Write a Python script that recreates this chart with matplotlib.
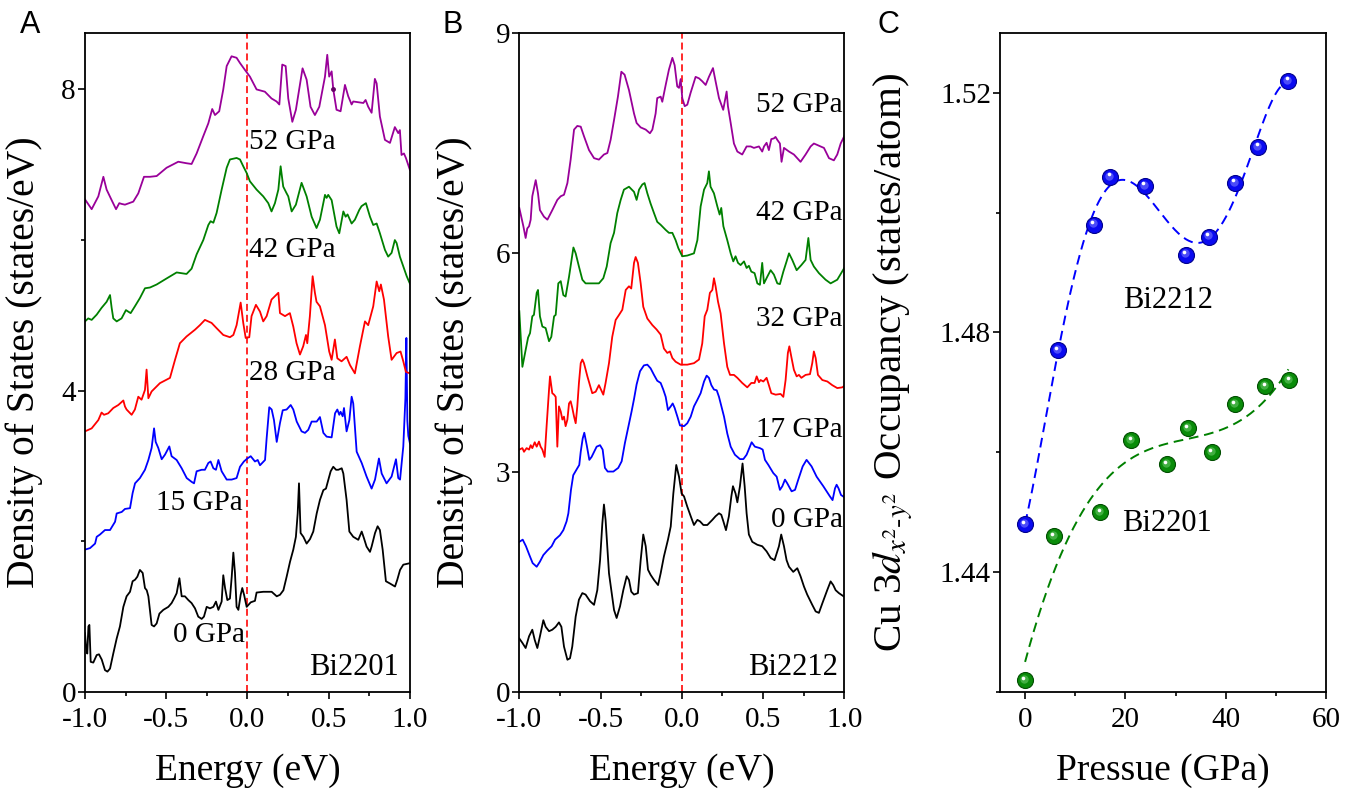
import numpy as np
import matplotlib
matplotlib.use('Agg')
import matplotlib.pyplot as plt
from matplotlib.ticker import MultipleLocator, FormatStrFormatter
from matplotlib.transforms import offset_copy

plt.rcParams['font.family'] = 'Liberation Serif'
plt.rcParams['mathtext.fontset'] = 'stix'
plt.rcParams['axes.unicode_minus'] = False

# ---- Bi2201 DOS, (energy in eV, states/eV incl. vertical offset) ----
bi2201_0 = [(-1.000,0.78),(-0.994,0.60),(-0.986,0.51),(-0.979,0.87),(-0.973,0.89),(-0.965,0.40),(-0.949,0.39),(-0.928,0.49),(-0.914,0.50),(-0.897,0.43),(-0.877,0.29),(-0.862,0.27),(-0.846,0.31),(-0.826,0.51),(-0.805,0.71),(-0.785,0.87),(-0.764,1.13),(-0.744,1.27),(-0.723,1.33),(-0.707,1.47),(-0.692,1.49),(-0.678,1.53),(-0.662,1.62),(-0.645,1.58),(-0.631,1.38),(-0.620,1.35),(-0.610,1.27),(-0.590,0.89),(-0.575,0.87),(-0.559,0.91),(-0.542,1.04),(-0.518,1.09),(-0.487,1.13),(-0.467,1.18),(-0.452,1.24),(-0.436,1.31),(-0.419,1.51),(-0.405,1.27),(-0.385,1.27),(-0.364,1.22),(-0.344,1.18),(-0.323,1.11),(-0.303,1.00),(-0.282,0.97),(-0.268,1.00),(-0.251,1.13),(-0.231,1.11),(-0.210,1.13),(-0.194,1.20),(-0.179,1.09),(-0.159,1.20),(-0.149,1.55),(-0.138,1.38),(-0.124,1.22),(-0.108,1.24),(-0.097,1.53),(-0.087,1.85),(-0.077,1.58),(-0.067,1.13),(-0.056,1.09),(-0.042,1.29),(-0.032,1.38),(-0.021,1.29),(-0.005,1.13),(0.020,1.19),(0.046,1.21),(0.056,1.32),(0.097,1.33),(0.149,1.33),(0.180,1.27),(0.200,1.29),(0.221,1.35),(0.241,1.53),(0.262,1.73),(0.282,1.89),(0.298,2.06),(0.309,2.37),(0.317,2.77),(0.327,2.11),(0.344,2.06),(0.364,1.97),(0.385,2.03),(0.405,2.13),(0.426,2.37),(0.446,2.55),(0.467,2.68),(0.483,2.70),(0.498,2.82),(0.512,2.93),(0.528,2.99),(0.545,2.95),(0.559,2.95),(0.580,2.97),(0.590,2.90),(0.610,2.55),(0.627,2.13),(0.651,2.06),(0.682,2.02),(0.703,2.13),(0.717,2.04),(0.733,1.93),(0.754,1.86),(0.764,1.93),(0.785,2.11),(0.801,2.20),(0.815,2.15),(0.832,1.89),(0.852,1.47),(0.877,1.44),(0.908,1.40),(0.922,1.49),(0.939,1.62),(0.959,1.69),(1.000,1.71)]
bi2201_15 = [(-1.000,1.89),(-0.969,1.91),(-0.938,1.97),(-0.928,2.06),(-0.908,2.09),(-0.877,2.15),(-0.846,2.15),(-0.815,2.26),(-0.805,2.37),(-0.774,2.39),(-0.754,2.43),(-0.723,2.44),(-0.707,2.64),(-0.692,2.77),(-0.662,2.84),(-0.631,2.95),(-0.610,3.08),(-0.590,3.24),(-0.575,3.50),(-0.565,3.32),(-0.549,3.24),(-0.528,3.09),(-0.508,3.15),(-0.481,3.26),(-0.467,3.13),(-0.436,3.08),(-0.405,2.97),(-0.374,2.84),(-0.344,2.79),(-0.329,2.77),(-0.313,2.93),(-0.282,2.95),(-0.262,2.95),(-0.241,3.04),(-0.227,3.06),(-0.210,2.97),(-0.194,2.95),(-0.179,3.08),(-0.159,2.93),(-0.128,2.82),(-0.097,2.82),(-0.067,2.84),(-0.046,2.99),(-0.022,3.06),(-0.001,3.10),(0.020,3.13),(0.046,3.06),(0.063,3.08),(0.077,3.01),(0.108,3.08),(0.118,3.37),(0.134,3.78),(0.149,3.75),(0.163,3.61),(0.180,3.32),(0.200,3.57),(0.217,3.74),(0.241,3.75),(0.266,3.81),(0.282,3.75),(0.303,3.59),(0.333,3.46),(0.354,3.44),(0.374,3.48),(0.395,3.59),(0.426,3.59),(0.446,3.65),(0.467,3.44),(0.487,3.39),(0.518,3.38),(0.539,3.70),(0.553,3.75),(0.565,3.68),(0.573,3.72),(0.586,3.66),(0.594,3.77),(0.610,3.46),(0.627,3.61),(0.641,3.92),(0.651,3.83),(0.672,3.19),(0.703,3.04),(0.733,2.86),(0.764,2.70),(0.785,2.82),(0.809,3.10),(0.826,2.90),(0.856,2.77),(0.887,2.86),(0.914,3.09),(0.928,2.84),(0.939,2.82),(0.959,3.26),(0.972,3.90),(0.978,4.70),(0.984,3.60),(0.990,3.40),(1.000,3.30)]
bi2201_28 = [(-1.000,3.46),(-0.959,3.50),(-0.918,3.61),(-0.898,3.71),(-0.883,3.68),(-0.857,3.70),(-0.826,3.77),(-0.795,3.81),(-0.764,3.87),(-0.754,3.79),(-0.744,3.75),(-0.713,3.68),(-0.693,3.75),(-0.672,3.92),(-0.652,3.88),(-0.631,4.01),(-0.621,4.28),(-0.610,3.90),(-0.590,3.99),(-0.539,4.10),(-0.477,4.17),(-0.446,4.41),(-0.416,4.63),(-0.375,4.72),(-0.323,4.81),(-0.293,4.87),(-0.262,4.94),(-0.221,4.90),(-0.190,4.83),(-0.149,4.74),(-0.108,4.71),(-0.087,4.74),(-0.067,4.87),(-0.042,5.17),(-0.026,4.90),(-0.011,4.70),(0.011,4.71),(0.025,4.99),(0.052,5.14),(0.077,5.05),(0.097,4.92),(0.118,4.99),(0.148,5.21),(0.190,5.30),(0.200,5.03),(0.231,4.99),(0.261,5.03),(0.282,4.85),(0.302,4.63),(0.323,4.48),(0.343,4.59),(0.360,4.74),(0.368,4.63),(0.384,4.99),(0.401,5.52),(0.415,5.30),(0.425,5.18),(0.446,5.12),(0.477,4.87),(0.503,4.52),(0.518,4.41),(0.538,4.68),(0.553,4.43),(0.579,4.39),(0.610,4.45),(0.631,4.34),(0.661,4.23),(0.692,4.59),(0.723,4.92),(0.743,4.87),(0.774,5.12),(0.795,5.45),(0.811,5.32),(0.821,5.41),(0.840,5.21),(0.866,4.72),(0.887,4.41),(0.918,4.50),(0.942,4.52),(0.959,4.39),(0.975,4.25),(1.000,4.23)]
bi2201_42 = [(-1.000,4.92),(-0.980,4.96),(-0.959,4.94),(-0.928,5.01),(-0.898,5.10),(-0.867,5.18),(-0.846,5.27),(-0.836,5.10),(-0.826,4.96),(-0.805,4.92),(-0.775,4.96),(-0.748,5.07),(-0.734,5.05),(-0.719,5.03),(-0.693,5.12),(-0.662,5.23),(-0.631,5.36),(-0.600,5.37),(-0.559,5.41),(-0.498,5.49),(-0.436,5.57),(-0.375,5.55),(-0.344,5.62),(-0.313,5.81),(-0.272,6.00),(-0.241,6.20),(-0.227,6.25),(-0.210,6.23),(-0.190,6.36),(-0.159,6.67),(-0.128,6.96),(-0.108,7.07),(-0.067,7.09),(-0.046,7.07),(-0.026,6.98),(-0.005,6.89),(0.015,6.78),(0.056,6.67),(0.097,6.58),(0.128,6.49),(0.148,6.38),(0.169,6.49),(0.190,6.67),(0.204,6.98),(0.220,6.71),(0.241,6.62),(0.251,6.58),(0.272,6.38),(0.298,6.47),(0.333,6.76),(0.364,6.58),(0.395,6.31),(0.425,6.16),(0.446,6.27),(0.477,6.60),(0.487,6.56),(0.497,6.60),(0.518,6.53),(0.548,6.18),(0.565,6.09),(0.590,6.38),(0.604,6.31),(0.616,6.34),(0.641,6.22),(0.661,6.27),(0.688,6.40),(0.702,6.45),(0.729,6.49),(0.754,6.31),(0.774,6.20),(0.795,6.22),(0.815,6.09),(0.846,5.87),(0.866,5.78),(0.887,5.83),(0.907,6.00),(0.918,5.96),(0.938,5.78),(0.959,5.65),(0.980,5.52),(1.000,5.42)]
bi2201_52 = [(-1.000,6.54),(-0.959,6.41),(-0.918,6.58),(-0.887,6.84),(-0.867,6.67),(-0.836,6.53),(-0.809,6.41),(-0.789,6.49),(-0.775,6.48),(-0.754,6.47),(-0.703,6.51),(-0.672,6.62),(-0.637,6.84),(-0.600,6.84),(-0.559,6.85),(-0.498,6.96),(-0.426,7.04),(-0.375,7.02),(-0.344,7.01),(-0.313,7.15),(-0.272,7.38),(-0.241,7.55),(-0.217,7.74),(-0.200,7.66),(-0.174,7.71),(-0.149,8.00),(-0.128,8.31),(-0.098,8.44),(-0.067,8.42),(-0.046,8.35),(-0.016,8.26),(0.015,8.17),(0.056,8.00),(0.107,7.97),(0.148,7.88),(0.179,7.84),(0.196,7.80),(0.214,8.33),(0.235,8.31),(0.251,7.88),(0.276,7.57),(0.298,7.73),(0.339,8.28),(0.364,8.13),(0.388,7.77),(0.415,7.66),(0.442,7.77),(0.477,8.17),(0.491,8.46),(0.503,8.17),(0.518,8.24),(0.528,8.00),(0.548,7.73),(0.573,7.71),(0.600,8.06),(0.620,7.91),(0.641,7.80),(0.651,7.84),(0.713,7.82),(0.727,7.86),(0.743,7.77),(0.764,7.69),(0.784,8.14),(0.795,8.08),(0.815,7.64),(0.846,7.33),(0.877,7.29),(0.907,7.50),(0.928,7.42),(0.938,7.46),(0.948,7.13),(0.963,7.15),(0.975,7.09),(1.000,6.93)]

# ---- Bi2212 DOS ----
bi2212_0 = [(-1.000,0.73),(-0.981,0.67),(-0.961,0.60),(-0.940,0.76),(-0.920,0.85),(-0.905,0.71),(-0.889,0.60),(-0.873,0.76),(-0.852,0.98),(-0.838,0.89),(-0.817,0.83),(-0.797,0.85),(-0.776,0.89),(-0.756,0.95),(-0.741,0.89),(-0.725,0.62),(-0.704,0.44),(-0.688,0.46),(-0.674,0.62),(-0.653,1.03),(-0.633,1.26),(-0.612,1.35),(-0.592,1.33),(-0.565,1.24),(-0.540,1.19),(-0.520,1.39),(-0.503,1.80),(-0.489,2.30),(-0.479,2.56),(-0.469,2.35),(-0.448,1.62),(-0.417,1.12),(-0.401,1.01),(-0.380,1.17),(-0.360,1.39),(-0.339,1.58),(-0.325,1.53),(-0.311,1.37),(-0.294,1.33),(-0.270,1.35),(-0.253,1.80),(-0.237,2.15),(-0.222,1.99),(-0.208,1.67),(-0.192,1.60),(-0.171,1.53),(-0.146,1.46),(-0.130,1.62),(-0.110,1.85),(-0.085,2.08),(-0.068,2.26),(-0.052,2.71),(-0.034,3.10),(-0.017,2.94),(-0.001,2.71),(0.014,2.67),(0.034,2.53),(0.055,2.40),(0.075,2.28),(0.096,2.35),(0.112,2.33),(0.133,2.28),(0.157,2.28),(0.188,2.35),(0.208,2.40),(0.229,2.44),(0.243,2.42),(0.256,2.33),(0.272,2.21),(0.290,2.40),(0.305,2.67),(0.315,2.81),(0.331,2.71),(0.342,2.59),(0.358,2.81),(0.374,3.12),(0.387,2.81),(0.399,2.44),(0.413,2.15),(0.434,2.05),(0.465,2.01),(0.495,1.99),(0.522,1.92),(0.547,1.83),(0.571,1.80),(0.598,1.99),(0.612,2.15),(0.629,1.99),(0.645,1.80),(0.660,1.71),(0.686,1.64),(0.711,1.69),(0.731,1.58),(0.752,1.44),(0.772,1.33),(0.803,1.19),(0.824,1.10),(0.844,1.08),(0.865,1.21),(0.895,1.39),(0.916,1.51),(0.932,1.46),(0.947,1.39),(0.967,1.35),(1.000,1.30)]
bi2212_17 = [(-1.000,2.05),(-0.979,2.08),(-0.959,1.99),(-0.938,1.87),(-0.918,1.76),(-0.893,1.71),(-0.873,1.78),(-0.852,1.87),(-0.828,1.93),(-0.801,1.99),(-0.780,2.08),(-0.750,2.14),(-0.729,2.21),(-0.709,2.33),(-0.698,2.44),(-0.682,2.76),(-0.668,2.96),(-0.647,3.04),(-0.631,3.10),(-0.622,3.28),(-0.610,3.46),(-0.600,3.54),(-0.585,3.37),(-0.569,3.17),(-0.555,3.21),(-0.524,3.35),(-0.503,3.37),(-0.487,3.31),(-0.473,3.06),(-0.456,3.01),(-0.421,3.01),(-0.391,3.06),(-0.370,3.15),(-0.350,3.40),(-0.329,3.62),(-0.309,3.83),(-0.294,4.00),(-0.278,4.20),(-0.257,4.38),(-0.233,4.46),(-0.212,4.47),(-0.192,4.42),(-0.171,4.33),(-0.151,4.25),(-0.130,4.22),(-0.114,4.13),(-0.099,4.03),(-0.085,3.85),(-0.068,3.90),(-0.056,3.94),(-0.044,3.88),(-0.027,3.76),(-0.011,3.64),(0.014,3.63),(0.034,3.67),(0.055,3.76),(0.075,3.90),(0.096,3.99),(0.116,4.08),(0.137,4.24),(0.153,4.32),(0.167,4.29),(0.182,4.19),(0.198,4.13),(0.215,4.12),(0.229,4.03),(0.260,3.76),(0.280,3.53),(0.301,3.35),(0.327,3.24),(0.358,3.18),(0.379,3.18),(0.399,3.24),(0.430,3.41),(0.450,3.35),(0.481,3.33),(0.498,3.31),(0.512,3.17),(0.533,3.10),(0.563,2.99),(0.584,2.94),(0.604,2.76),(0.619,2.81),(0.635,2.90),(0.649,2.85),(0.676,2.74),(0.697,2.76),(0.717,2.90),(0.744,3.08),(0.768,3.17),(0.799,3.08),(0.830,2.94),(0.871,2.81),(0.912,2.67),(0.928,2.62),(0.943,2.78),(0.953,2.83),(0.965,2.78),(0.980,2.69),(1.000,2.66)]
bi2212_32 = [(-1.000,3.31),(-0.981,3.33),(-0.971,3.28),(-0.955,3.33),(-0.940,3.31),(-0.930,3.37),(-0.920,3.33),(-0.905,3.41),(-0.893,3.35),(-0.879,3.42),(-0.869,3.35),(-0.858,3.31),(-0.844,3.21),(-0.832,3.63),(-0.817,4.13),(-0.811,4.31),(-0.797,4.08),(-0.786,4.06),(-0.776,4.03),(-0.766,3.35),(-0.756,3.90),(-0.745,3.83),(-0.735,3.72),(-0.725,3.76),(-0.715,3.63),(-0.704,3.72),(-0.694,3.94),(-0.684,3.97),(-0.674,3.88),(-0.663,3.76),(-0.653,3.67),(-0.643,3.90),(-0.633,4.22),(-0.622,4.49),(-0.612,4.54),(-0.602,4.49),(-0.581,4.31),(-0.551,4.08),(-0.530,4.10),(-0.510,4.19),(-0.483,4.06),(-0.469,4.22),(-0.448,4.49),(-0.428,4.85),(-0.407,5.08),(-0.386,5.15),(-0.366,5.22),(-0.345,5.49),(-0.325,5.54),(-0.311,5.51),(-0.294,5.86),(-0.284,5.94),(-0.270,5.86),(-0.253,5.58),(-0.237,5.26),(-0.212,5.10),(-0.181,5.01),(-0.155,4.95),(-0.130,4.88),(-0.110,4.69),(-0.089,4.63),(-0.073,4.65),(-0.058,4.56),(-0.038,4.51),(-0.007,4.47),(0.034,4.47),(0.075,4.49),(0.106,4.54),(0.126,4.76),(0.141,5.13),(0.157,5.22),(0.173,5.45),(0.188,5.49),(0.198,5.65),(0.208,5.54),(0.223,5.33),(0.239,5.17),(0.260,4.76),(0.280,4.44),(0.297,4.33),(0.321,4.33),(0.342,4.29),(0.372,4.22),(0.403,4.16),(0.428,4.22),(0.448,4.22),(0.461,4.31),(0.475,4.23),(0.485,4.26),(0.502,4.24),(0.522,4.29),(0.536,4.19),(0.551,4.08),(0.578,4.06),(0.608,4.07),(0.625,4.03),(0.639,4.26),(0.653,4.63),(0.662,4.72),(0.674,4.58),(0.690,4.40),(0.707,4.31),(0.721,4.33),(0.736,4.29),(0.762,4.33),(0.789,4.34),(0.803,4.49),(0.813,4.65),(0.824,4.56),(0.838,4.33),(0.865,4.26),(0.896,4.24),(0.926,4.19),(0.957,4.15),(0.988,4.16),(1.000,4.18)]
bi2212_42 = [(-1.000,5.20),(-0.981,4.44),(-0.961,4.67),(-0.946,4.84),(-0.934,4.90),(-0.920,5.13),(-0.910,5.15),(-0.893,5.45),(-0.885,5.49),(-0.873,5.13),(-0.858,4.99),(-0.838,4.97),(-0.817,4.79),(-0.803,4.85),(-0.786,5.13),(-0.776,5.15),(-0.760,5.58),(-0.745,5.61),(-0.729,5.42),(-0.715,5.40),(-0.694,5.67),(-0.667,6.07),(-0.653,5.99),(-0.633,5.81),(-0.612,5.63),(-0.592,5.58),(-0.551,5.58),(-0.510,5.58),(-0.483,5.65),(-0.462,5.81),(-0.438,6.13),(-0.417,6.27),(-0.397,6.54),(-0.376,6.72),(-0.356,6.86),(-0.325,6.90),(-0.294,6.83),(-0.278,6.72),(-0.263,6.86),(-0.243,6.93),(-0.229,6.95),(-0.212,6.81),(-0.192,6.67),(-0.171,6.54),(-0.151,6.42),(-0.130,6.38),(-0.099,6.31),(-0.079,6.27),(-0.058,6.27),(-0.038,6.17),(-0.021,6.06),(0.003,5.95),(0.034,5.96),(0.075,5.99),(0.096,6.17),(0.116,6.63),(0.137,6.86),(0.157,6.95),(0.167,7.11),(0.177,6.90),(0.198,6.81),(0.219,6.63),(0.233,6.52),(0.243,6.61),(0.256,6.36),(0.280,6.17),(0.301,5.99),(0.317,5.88),(0.331,5.95),(0.346,5.86),(0.362,5.83),(0.383,5.88),(0.399,5.79),(0.413,5.82),(0.428,5.74),(0.448,5.72),(0.465,5.58),(0.481,5.56),(0.495,5.86),(0.506,5.58),(0.526,5.67),(0.547,5.76),(0.567,5.70),(0.588,5.58),(0.604,5.57),(0.625,5.74),(0.645,5.88),(0.660,5.99),(0.680,5.90),(0.707,5.76),(0.736,5.83),(0.762,5.90),(0.779,6.20),(0.793,5.90),(0.813,5.81),(0.844,5.72),(0.885,5.63),(0.916,5.58),(0.957,5.63),(1.000,5.79)]
bi2212_52 = [(-1.000,6.61),(-0.975,6.36),(-0.961,6.20),(-0.951,6.33),(-0.940,6.36),(-0.930,6.45),(-0.920,6.77),(-0.899,6.99),(-0.885,6.81),(-0.873,6.58),(-0.848,6.49),(-0.827,6.45),(-0.797,6.58),(-0.766,6.72),(-0.745,6.77),(-0.725,6.79),(-0.704,6.95),(-0.684,7.27),(-0.663,7.68),(-0.643,7.73),(-0.622,7.72),(-0.602,7.59),(-0.571,7.40),(-0.540,7.29),(-0.510,7.27),(-0.479,7.34),(-0.458,7.36),(-0.438,7.54),(-0.417,7.81),(-0.393,8.13),(-0.372,8.47),(-0.352,8.43),(-0.325,8.22),(-0.294,7.90),(-0.278,7.77),(-0.253,7.71),(-0.222,7.68),(-0.196,7.63),(-0.181,7.68),(-0.161,7.90),(-0.151,8.11),(-0.130,8.13),(-0.120,8.06),(-0.099,8.29),(-0.079,8.50),(-0.058,8.66),(-0.044,8.56),(-0.028,8.27),(-0.017,8.25),(-0.007,8.37),(0.003,8.11),(0.018,8.00),(0.034,8.02),(0.054,8.18),(0.085,8.40),(0.106,8.38),(0.126,8.34),(0.147,8.29),(0.167,8.40),(0.192,8.52),(0.208,8.34),(0.229,8.11),(0.255,7.95),(0.276,8.20),(0.284,8.00),(0.301,7.77),(0.321,7.49),(0.342,7.38),(0.372,7.34),(0.399,7.45),(0.424,7.45),(0.444,7.43),(0.475,7.45),(0.495,7.38),(0.506,7.45),(0.522,7.50),(0.536,7.40),(0.551,7.55),(0.567,7.56),(0.577,7.58),(0.588,7.54),(0.604,7.49),(0.614,7.24),(0.629,7.43),(0.660,7.38),(0.690,7.34),(0.731,7.24),(0.762,7.34),(0.793,7.45),(0.813,7.49),(0.834,7.47),(0.854,7.45),(0.875,7.43),(0.906,7.29),(0.936,7.26),(0.957,7.34),(0.978,7.49),(1.000,7.59)]

labels_2201 = ['0 GPa', '15 GPa', '28 GPa', '42 GPa', '52 GPa']
labels_2212 = ['0 GPa', '17 GPa', '32 GPa', '42 GPa', '52 GPa']
line_colors = ['black', '#0000ff', '#ff0000', '#008000', '#990099']

# ---- Cu 3d(x2-y2) occupancy vs pressure ----
p_2212 = [0.0, 6.5, 13.7, 17.0, 23.9, 32.1, 36.7, 41.8, 46.5, 52.5]
occ_2212 = [1.448, 1.477, 1.498, 1.506, 1.5045, 1.493, 1.496, 1.505, 1.511, 1.522]
p_2201 = [0.0, 5.7, 15.0, 21.2, 28.3, 32.5, 37.3, 41.9, 47.9, 52.7]
occ_2201 = [1.422, 1.446, 1.450, 1.462, 1.458, 1.464, 1.460, 1.468, 1.471, 1.472]

fig = plt.figure(figsize=(13.45, 7.9), dpi=100)
axA = fig.add_axes([0.0632, 0.1241, 0.2416, 0.8342])
axB = fig.add_axes([0.3861, 0.1241, 0.2416, 0.8342])
axC = fig.add_axes([0.7435, 0.1241, 0.2424, 0.8342])


def style(ax):
    for s in ax.spines.values():
        s.set_linewidth(1.3)
    ax.tick_params(which='both', direction='out', top=False, right=False,
                   labelsize=21, width=1.2)
    ax.tick_params(which='major', length=5)
    ax.tick_params(which='minor', length=3)
    ax.tick_params(axis='y', pad=1.5)
    ax.tick_params(axis='x', pad=5.5)


def dos_panel(ax, curves, ylim, ystep, yminor):
    for data, c in zip(curves, line_colors):
        d = np.array(data)
        ax.plot(d[:, 0], d[:, 1], color=c, lw=1.3)
    ax.axvline(0, color='#ff2a2a', lw=1.4, ls=(0, (3.6, 2.0)), zorder=1)
    ax.set_xlim(-1, 1)
    ax.set_ylim(*ylim)
    ax.xaxis.set_major_locator(MultipleLocator(0.5))
    ax.xaxis.set_minor_locator(MultipleLocator(0.25))
    ax.xaxis.set_major_formatter(FormatStrFormatter('%.1f'))
    ax.yaxis.set_major_locator(MultipleLocator(ystep))
    if yminor:
        ax.yaxis.set_minor_locator(MultipleLocator(yminor))
    ax.set_xlabel('Energy (eV)', fontsize=27)
    ax.set_ylabel('Density of States (states/eV)', fontsize=28.5)
    ax.xaxis.set_label_coords(0.5, -0.093)
    style(ax)


dos_panel(axA, [bi2201_0, bi2201_15, bi2201_28, bi2201_42, bi2201_52], (0, 8.75), 4, 2)
axA.yaxis.set_label_coords(-0.129, 0.5)
axA.plot(0.528, 8.0, 'o', ms=2.5, color='#660066')
fs = 21
axA.text(-0.015, 0.76, labels_2201[0], fontsize=fs, ha='right', va='center')
axA.text(-0.028, 2.51, labels_2201[1], fontsize=fs, ha='right', va='center')
axA.text(0.01, 4.24, labels_2201[2], fontsize=fs, ha='left', va='center')
axA.text(0.01, 5.87, labels_2201[3], fontsize=fs, ha='left', va='center')
axA.text(0.01, 7.30, labels_2201[4], fontsize=fs, ha='left', va='center')
axA.text(0.93, 0.32, 'Bi2201', fontsize=22, ha='right', va='center')

dos_panel(axB, [bi2212_0, bi2212_17, bi2212_32, bi2212_42, bi2212_52], (0, 9), 3, None)
axB.yaxis.set_label_coords(-0.142, 0.5)
axB.text(0.99, 2.35, labels_2212[0], fontsize=fs, ha='right', va='center')
axB.text(0.99, 3.58, labels_2212[1], fontsize=fs, ha='right', va='center')
axB.text(0.99, 5.09, labels_2212[2], fontsize=fs, ha='right', va='center')
axB.text(0.99, 6.54, labels_2212[3], fontsize=fs, ha='right', va='center')
axB.text(0.99, 8.02, labels_2212[4], fontsize=fs, ha='right', va='center')
axB.text(0.96, 0.33, 'Bi2212', fontsize=22, ha='right', va='center')


# panel C: fitted trend lines and shaded sphere markers
def spheres(ax, x, y, base, edge, light):
    ax.plot(x, y, 'o', ms=11.5, mfc=base, mec=edge, mew=0.8, zorder=3)
    t1 = offset_copy(ax.transData, fig=fig, x=-1.0, y=1.2, units='dots')
    ax.plot(x, y, 'o', ms=6, mfc=light, mec='none', alpha=0.6, transform=t1, zorder=4)
    t2 = offset_copy(ax.transData, fig=fig, x=-1.8, y=2.4, units='dots')
    ax.plot(x, y, 'o', ms=2.6, mfc='white', mec='none', transform=t2, zorder=5)


pp = np.linspace(0, 52.5, 300)
fit_2212 = np.polyval(np.polyfit(p_2212, occ_2212, 5), pp)
fit_2201 = np.polyval(np.polyfit(p_2201, occ_2201, 3), pp)
axC.plot(pp, fit_2212, color='#0000ff', lw=1.4, ls=(0, (5, 3)), zorder=2)
axC.plot(pp, fit_2201, color='#008000', lw=1.4, ls=(0, (5, 3)), zorder=2)
spheres(axC, p_2212, occ_2212, '#0a0af0', '#00008c', '#7878ff')
spheres(axC, p_2201, occ_2201, '#0a8c0a', '#004d00', '#66c866')

axC.set_xlim(-5, 60)
axC.set_ylim(1.42, 1.53)
axC.xaxis.set_major_locator(MultipleLocator(20))
axC.xaxis.set_minor_locator(MultipleLocator(10))
axC.yaxis.set_major_locator(MultipleLocator(0.04))
axC.yaxis.set_minor_locator(MultipleLocator(0.02))
axC.yaxis.set_major_formatter(FormatStrFormatter('%.2f'))
axC.set_yticks([1.44, 1.48, 1.52])
axC.set_xlabel('Pressue (GPa)', fontsize=27)
axC.set_ylabel(r'Cu 3$d_{x^2\text{-}y^2}$ Occupancy (states/atom)', fontsize=29.5)
axC.xaxis.set_label_coords(0.5, -0.093)
axC.yaxis.set_label_coords(-0.26, 0.5)
axC.text(28.4, 1.4854, 'Bi2212', fontsize=22, ha='center', va='center')
axC.text(19.3, 1.4481, 'Bi2201', fontsize=22, ha='left', va='center')
style(axC)

for lab, x in zip(['A', 'B', 'C'], [0.0223, 0.3368, 0.6602]):
    fig.text(x, 0.968, lab, fontsize=22, family='Liberation Sans', ha='center', va='center')

fig.savefig('out.png', dpi=100)
